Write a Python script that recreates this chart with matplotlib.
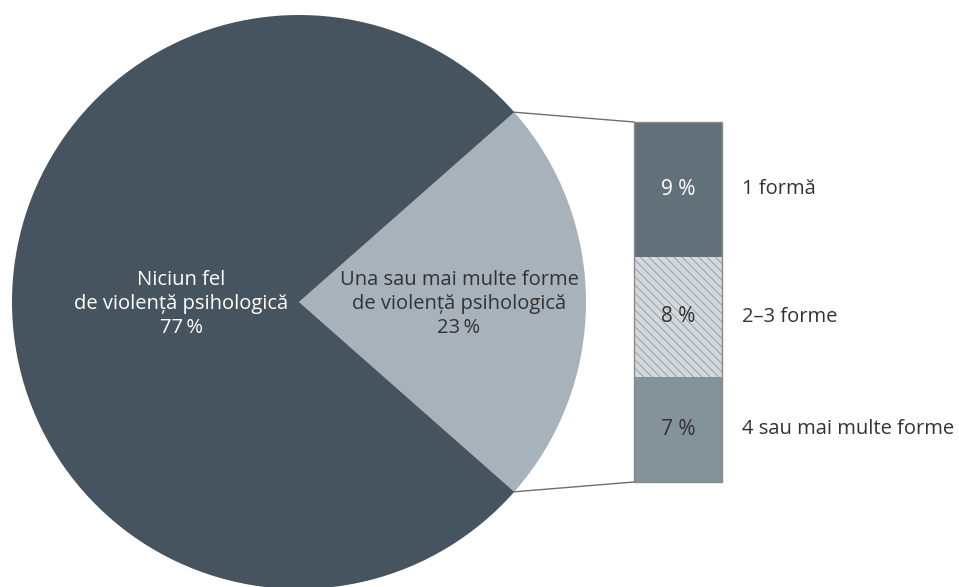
import numpy as np
import matplotlib.pyplot as plt

plt.rcParams['font.family'] = ['Open Sans', 'DejaVu Sans']
plt.rcParams['hatch.linewidth'] = 0.6

# date
pie_labels = ['Una sau mai multe forme\nde violență psihologică\n23\u2009%',
              'Niciun fel\nde violență psihologică\n77\u2009%']
pie_values = [23, 77]
pie_colors = ['#a7b2ba', '#46545f']

bar_labels = ['1 formă', '2–3 forme', '4 sau mai multe forme']
bar_values = [9, 8, 7]
bar_texts = ['9 %', '8 %', '7 %']
bar_colors = ['#627079', '#d2d8dc', '#84929a']
bar_text_colors = ['white', '#333333', '#333333']

fig = plt.figure(figsize=(9.59, 5.87), dpi=100)
ax = fig.add_axes([0, 0, 1, 1])

# pie, in pixel-like coordinates (y up)
cx, cy, r = 299, 285, 287
half = pie_values[0] / 100 * 180
wedges, _ = ax.pie(pie_values, colors=pie_colors, startangle=-half,
                   counterclock=True, center=(cx, cy), radius=r,
                   wedgeprops=dict(linewidth=0))

ax.text(459, cy - 2, pie_labels[0], ha='center', va='center',
        fontsize=14.5, color='#333333', linespacing=1.27)
ax.text(181, cy - 2, pie_labels[1], ha='center', va='center',
        fontsize=14.5, color='white', linespacing=1.27)

# stacked bar
scale = 15
bx, bw = 678, 88
top = 465
bottoms = top - np.cumsum(bar_values) * scale
for i, v in enumerate(bar_values):
    h = v * scale
    b = bottoms[i]
    if i == 1:
        ax.bar(bx, h, bw, bottom=b, color=bar_colors[i], edgecolor='#8f989e',
               hatch='\\\\\\\\', linewidth=0)
    else:
        ax.bar(bx, h, bw, bottom=b, color=bar_colors[i], linewidth=0)
    ax.text(bx, b + h / 2, bar_texts[i], ha='center', va='center',
            fontsize=15, color=bar_text_colors[i])
    ax.text(742, b + h / 2, bar_labels[i], ha='left', va='center',
            fontsize=14.5, color='#333333')
# outline
ax.bar(bx, top - bottoms[-1], bw, bottom=bottoms[-1], fill=False,
       edgecolor='#8a8a8a', linewidth=1)

# connection lines
a = np.deg2rad(half)
ax.plot([cx + r * np.cos(a), bx - bw / 2], [cy + r * np.sin(a), top],
        color='#6e6e6e', linewidth=1)
ax.plot([cx + r * np.cos(a), bx - bw / 2], [cy - r * np.sin(a), bottoms[-1]],
        color='#6e6e6e', linewidth=1)

ax.set_xlim(0, 959)
ax.set_ylim(0, 587)
ax.set_aspect('equal')
ax.axis('off')

fig.savefig('out.png', dpi=100)
